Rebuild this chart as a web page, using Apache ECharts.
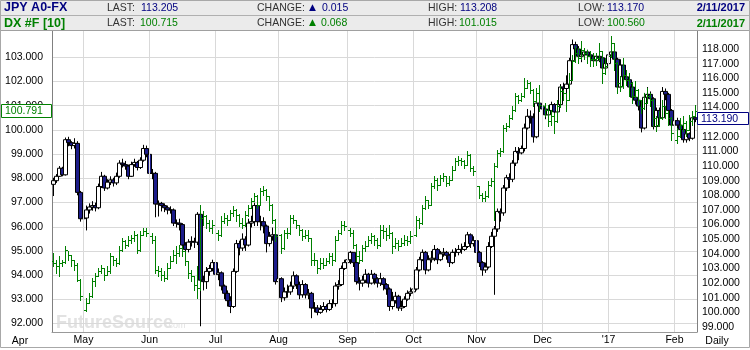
<!DOCTYPE html>
<html><head><meta charset="utf-8">
<script src="https://cdn.jsdelivr.net/npm/echarts@6/dist/echarts.min.js"></script>
<style>html,body{margin:0;padding:0;background:#fff}#c{width:750px;height:350px}</style>
</head><body><div id="c"></div>
<script>
// ---- data ----
const firstDay = '2016-04-18';
const lastDay = '2017-02-10';
const monthNames = ['Jan','Feb','Mar','Apr','May','Jun','Jul','Aug','Sep','Oct','Nov','Dec'];
const leftTicks = [92,93,94,95,96,97,98,99,100,101,102,103];
const rightTicks = [99,100,101,102,103,104,105,106,107,108,109,110,111,112,113,114,115,116,117,118];

const dxOpen0 = 94.60;
const dxClose = [94.50,94.37,94.50,94.55,95.05,94.85,94.64,94.43,93.81,93.13,
92.58,92.85,93.13,93.75,93.95,94.16,94.30,94.02,94.16,94.78,
94.64,94.50,95.05,95.40,95.26,95.47,95.54,95.67,95.05,95.67,
95.81,95.74,95.60,95.47,94.23,94.16,94.02,93.88,94.30,94.57,
94.85,94.92,95.12,94.99,94.57,94.09,93.95,93.61,93.47,96.36,
96.43,96.16,95.95,96.09,95.74,95.67,96.22,96.36,96.29,96.57,
96.71,96.50,96.16,96.09,96.50,96.78,97.05,97.26,96.91,97.46,
97.53,97.26,96.91,96.29,95.60,95.67,95.12,95.74,95.74,96.36,
96.29,96.09,95.88,95.60,95.67,95.54,94.64,94.64,94.30,94.50,
94.43,94.57,94.78,94.64,95.47,95.74,96.09,96.02,95.88,95.74,
95.26,94.78,94.64,95.12,95.19,95.47,95.60,95.47,95.26,95.88,
95.81,95.67,95.74,95.19,95.33,95.19,95.33,95.47,95.40,95.60,
95.67,96.29,96.16,96.78,97.12,96.91,97.67,97.95,97.74,98.02,
98.08,97.81,97.95,98.36,98.70,98.77,98.70,98.57,98.98,98.43,
98.29,97.67,97.33,97.19,97.26,97.74,97.88,98.50,99.05,99.11,
100.08,100.15,100.49,100.84,101.39,101.25,101.39,101.73,101.94,101.66,
101.18,101.53,101.04,100.97,100.84,100.35,100.56,100.35,100.97,101.59,
101.53,101.25,102.08,102.84,103.18,102.97,103.32,103.18,103.04,102.91,
102.91,102.97,103.25,102.35,102.63,103.04,103.59,102.77,101.94,101.80,
102.29,102.08,101.94,101.39,101.66,101.25,100.91,101.11,101.39,101.25,
100.49,100.22,100.49,100.97,100.70,100.49,99.87,99.59,99.73,100.22,
100.28,100.01,100.35,100.56,100.79];
const dxHigh = [94.92,94.64,94.78,94.64,95.19,94.99,94.85,94.64,94.50,93.85,
93.15,93.05,93.26,93.88,94.09,94.30,94.43,94.30,94.37,94.92,
94.78,94.71,95.19,95.54,95.47,95.60,95.67,95.81,95.70,95.81,
95.95,95.95,95.81,95.74,95.60,94.37,94.30,94.16,94.50,94.78,
95.05,95.19,95.26,95.19,95.00,94.60,94.23,93.98,94.37,96.91,
96.64,96.50,96.29,96.29,96.10,95.88,96.43,96.57,96.50,96.71,
96.84,96.72,96.52,96.36,96.64,96.91,97.19,97.40,97.30,97.60,
97.67,97.55,97.26,96.95,96.32,95.81,95.70,95.88,95.95,96.50,
96.50,96.30,96.09,95.90,95.88,95.88,95.54,94.92,94.64,94.71,
94.71,94.71,94.92,94.92,95.60,95.88,96.22,96.22,96.09,95.95,
95.88,95.30,94.99,95.26,95.40,95.60,95.74,95.67,95.54,96.09,
96.09,95.95,96.09,95.78,95.54,95.47,95.54,95.67,95.60,95.81,
95.88,96.43,96.36,96.91,97.26,97.12,97.81,98.08,98.02,98.15,
98.22,98.10,98.08,98.50,98.84,98.91,98.84,98.77,99.11,99.00,
98.50,98.32,97.70,97.40,97.46,97.88,98.02,98.63,99.18,99.25,
100.22,100.28,100.63,100.97,101.53,101.46,101.53,102.15,102.08,101.96,
101.70,101.73,101.87,101.25,101.11,101.04,100.84,100.70,101.25,101.80,
101.66,101.53,102.35,103.11,103.46,103.39,103.66,103.39,103.32,103.25,
103.18,103.18,103.59,103.28,102.97,103.25,103.87,103.60,102.80,102.22,
102.97,102.49,102.35,101.97,102.01,101.68,101.25,101.53,101.73,101.53,
101.28,100.56,100.77,101.25,100.97,100.77,100.52,100.01,100.08,100.49,
100.56,100.35,100.63,100.77,101.02];
const dxLow = [94.37,94.09,93.95,94.37,94.50,94.64,94.37,94.23,93.75,92.99,
91.89,92.50,92.85,93.10,93.54,93.95,94.09,93.81,94.02,94.10,
94.43,94.37,94.45,95.00,95.12,95.19,95.33,95.40,94.92,95.00,
95.67,95.60,95.47,95.33,94.09,93.95,93.81,93.75,93.85,94.30,
94.57,94.50,94.78,94.78,94.43,93.88,93.75,93.40,93.06,93.40,
96.09,95.95,95.81,95.74,95.54,95.47,95.62,96.16,96.09,96.29,
96.43,96.22,96.02,95.95,96.05,96.45,96.78,97.05,96.78,96.88,
97.33,97.12,96.71,96.16,95.40,95.40,94.92,95.08,95.54,95.70,
96.16,95.95,95.67,95.47,95.54,95.40,94.43,94.43,94.09,94.25,
94.30,94.43,94.50,94.43,94.57,95.45,95.70,95.88,95.67,95.60,
95.12,94.57,94.50,94.60,94.99,95.19,95.33,95.26,95.12,95.22,
95.54,95.47,95.54,94.92,95.12,95.05,95.19,95.26,95.26,95.33,
95.47,95.62,95.95,96.12,96.75,96.78,96.88,97.62,97.53,97.74,
97.88,97.67,97.74,97.92,98.33,98.57,98.57,98.43,98.55,98.29,
98.15,97.53,97.19,97.05,97.05,97.22,97.67,96.29,98.48,98.91,
99.08,99.94,100.12,100.46,100.80,101.11,101.18,101.35,101.73,101.53,
100.97,101.15,100.77,100.70,100.56,100.15,100.22,99.87,100.32,100.94,
101.25,100.77,101.22,102.05,102.80,102.77,102.95,102.91,102.77,102.63,
102.63,102.70,102.90,101.94,102.30,102.60,103.00,102.49,101.53,101.59,
101.75,101.87,101.39,101.11,101.35,101.04,100.70,100.88,101.10,100.97,
100.15,99.94,100.18,100.46,100.49,100.22,99.59,99.25,99.46,99.70,
99.94,99.73,99.98,100.22,100.56];

const jpyOpen0 = 108.75;
const jpyClose = [109.00,109.30,109.85,109.40,111.80,111.60,111.40,111.55,108.20,106.40,
106.45,107.00,107.20,107.30,107.15,108.60,109.30,108.50,108.90,109.05,
108.85,109.30,110.20,110.10,110.00,109.30,110.10,110.25,109.90,110.40,
111.20,110.80,109.50,109.50,107.40,107.45,107.30,107.15,107.00,107.00,
106.10,106.10,106.00,104.60,104.30,104.80,104.85,104.80,106.70,102.20,
102.10,102.80,103.00,103.40,102.60,102.70,101.80,101.30,100.80,100.40,
102.80,104.70,104.40,105.00,104.60,106.10,106.20,107.30,106.20,106.20,
105.90,104.70,105.20,105.30,102.10,102.30,101.00,101.40,101.40,101.80,
102.50,101.90,101.20,101.90,101.20,101.30,100.30,100.30,100.00,100.20,
100.40,100.20,100.60,100.60,101.80,101.90,103.00,103.40,103.60,104.10,
103.40,102.10,102.00,102.20,102.60,102.00,102.60,102.30,102.00,102.30,
101.90,101.60,100.40,100.80,101.10,100.30,100.40,100.90,101.30,101.40,
101.60,102.90,103.60,104.10,102.90,103.60,103.70,104.30,103.60,104.00,
104.10,103.90,103.40,104.10,104.10,104.30,104.30,104.50,105.30,104.70,
104.90,104.10,103.40,102.90,103.10,104.50,105.20,105.70,106.90,106.80,
108.50,109.20,109.10,110.20,111.00,110.90,111.20,112.60,113.40,113.30,
112.00,114.30,114.10,113.90,113.50,113.80,114.20,113.70,114.20,115.40,
115.30,115.60,117.20,118.30,118.00,117.50,117.60,117.80,117.60,117.50,
117.20,117.50,117.40,116.70,117.00,117.60,117.80,117.30,115.40,116.90,
116.10,115.90,115.40,114.70,114.50,114.10,112.60,114.70,114.90,114.60,
112.70,113.80,113.30,115.10,114.90,113.80,112.80,113.10,112.80,112.50,
111.80,112.20,111.90,113.30,113.19];
const jpyHigh = [109.20,109.45,110.00,109.95,111.95,112.00,111.70,111.90,111.70,108.30,
106.90,107.30,107.45,107.60,107.50,108.80,109.60,109.40,109.10,109.30,
109.20,109.55,110.40,110.50,110.35,110.10,110.30,110.50,110.35,110.60,
111.45,111.40,110.90,109.80,109.60,107.65,107.55,107.45,107.30,107.25,
107.10,106.35,106.40,106.10,104.80,105.00,105.20,105.10,106.85,106.80,
102.50,103.10,103.25,103.60,103.45,103.00,102.80,101.90,101.50,101.10,
103.00,104.95,104.90,105.40,105.20,106.40,106.60,107.50,107.35,106.60,
106.50,106.00,105.50,105.80,105.40,102.80,102.40,101.70,101.90,102.10,
102.80,102.60,102.10,102.20,102.00,101.60,101.40,100.70,100.50,100.50,
100.70,100.55,100.85,100.90,102.05,102.20,103.20,103.60,104.10,104.20,
104.10,103.50,102.40,102.50,102.95,102.70,102.90,102.70,102.40,102.70,
102.40,102.00,101.70,101.40,101.40,101.20,100.80,101.10,101.50,101.70,
102.30,103.10,103.80,104.30,104.20,103.90,104.20,104.60,104.40,104.20,
104.40,104.20,104.00,104.30,104.40,104.60,104.70,104.80,105.50,105.40,
105.20,105.00,104.20,103.50,103.40,104.80,105.50,105.90,107.10,107.10,
108.70,109.40,109.50,110.40,111.30,111.30,111.40,112.90,113.90,113.80,
113.60,114.50,114.60,114.30,114.10,114.00,114.40,114.30,114.50,115.60,
115.70,116.20,117.40,118.65,118.50,118.20,117.90,118.00,117.95,117.80,
117.70,117.70,117.80,117.50,117.30,118.00,118.60,117.90,117.40,117.30,
117.00,116.40,116.10,115.50,115.20,114.70,114.30,115.00,115.40,115.10,
114.70,114.00,114.00,115.40,115.30,115.00,113.90,113.40,113.30,112.90,
112.60,112.50,112.30,113.50,113.40];
const jpyLow = [107.95,108.85,109.25,109.30,109.35,111.35,111.15,111.20,108.00,106.20,
106.10,105.60,106.75,106.95,106.90,107.05,108.50,108.30,108.40,108.70,
108.60,108.70,109.20,109.90,109.75,109.10,109.25,109.95,109.70,109.80,
110.30,110.60,109.30,109.10,106.50,106.55,106.90,106.85,106.70,106.75,
105.90,105.80,105.60,104.40,103.90,104.10,104.50,104.40,104.60,99.05,
101.50,101.60,102.50,102.80,102.30,102.20,101.50,100.90,100.40,99.95,
100.30,102.70,103.90,104.20,104.20,104.50,105.80,105.90,105.90,105.60,
105.40,104.10,104.50,104.90,101.90,101.80,100.70,100.80,101.00,101.20,
101.60,101.60,100.90,101.00,100.95,100.90,99.60,100.00,99.80,99.90,
100.10,100.00,100.10,100.30,100.40,101.55,101.80,102.90,103.20,103.30,
103.10,101.90,101.50,101.75,102.00,101.70,101.90,101.90,101.70,101.80,
101.50,101.20,100.10,100.20,100.60,100.10,100.10,100.30,100.80,101.10,
101.20,101.50,102.80,103.50,102.60,102.80,103.40,103.50,103.30,103.50,
103.80,103.60,103.10,103.30,103.80,103.90,104.00,104.20,104.40,104.40,
104.50,103.80,103.10,102.50,102.70,103.00,104.40,101.20,105.50,106.20,
106.60,108.30,108.50,108.90,110.00,110.40,110.80,111.00,112.50,112.90,
111.60,111.90,113.80,113.60,113.20,113.20,113.60,113.40,113.50,114.00,
114.90,114.80,115.40,116.90,117.70,117.20,117.10,117.40,117.30,117.20,
116.90,117.00,117.10,116.40,116.50,116.90,117.40,116.90,115.10,115.20,
115.80,115.60,115.10,114.40,114.20,113.80,112.30,112.50,114.50,114.30,
112.50,112.60,113.00,113.20,114.50,113.50,112.50,112.70,112.50,112.20,
111.60,111.60,111.70,111.80,113.00];

// ---- categories (trading days) ----
const categories = [];
(function(){
  const d = new Date(firstDay + 'T00:00:00Z'), end = new Date(lastDay + 'T00:00:00Z');
  while (d <= end) {
    const wd = d.getUTCDay();
    if (wd !== 0 && wd !== 6) categories.push(d.toISOString().slice(0,10));
    d.setUTCDate(d.getUTCDate() + 1);
  }
})();
const monthStart = new Set();
categories.forEach((c, i) => { if (i > 0 && c.slice(5,7) !== categories[i-1].slice(5,7)) monthStart.add(i); });

const jpyData = jpyClose.map((c, i) => [i === 0 ? jpyOpen0 : jpyClose[i-1], c, jpyLow[i], jpyHigh[i]]);
const dxData = dxClose.map((c, i) => [i, i === 0 ? dxOpen0 : dxClose[i-1], c, dxLow[i], dxHigh[i]]);

const FONT = '"Liberation Sans", Arial, sans-serif';
const NAVY = '#000080', GREEN = '#008000', GRAYTXT = '#333333';

function renderDX(params, api) {
  const i = api.value(0);
  const o = api.coord([i, api.value(1)]);
  const c = api.coord([i, api.value(2)]);
  const l = api.coord([i, api.value(3)]);
  const h = api.coord([i, api.value(4)]);
  const n = Math.floor(o[0]);
  const x = n + 0.5;
  const yo = Math.round(o[1]) + 0.5, yc = Math.round(c[1]) + 0.5;
  const st = {stroke: GREEN, lineWidth: 1};
  return {type: 'group', children: [
    {type: 'line', shape: {x1: x, y1: Math.round(h[1]), x2: x, y2: Math.round(l[1]) + 1}, style: st},
    {type: 'line', shape: {x1: n - 1, y1: yo, x2: n, y2: yo}, style: st},
    {type: 'line', shape: {x1: n + 1, y1: yc, x2: n + 2, y2: yc}, style: st}
  ]};
}

function txt(x, y, text, fill, size, bold, align, family) {
  return {type: 'text', z: 100, style: {x: x, y: y, text: text, fill: fill, fontSize: size,
    fontWeight: bold ? 'bold' : 'normal', fontFamily: family || FONT, align: align || 'left', verticalAlign: 'middle'}};
}

const graphic = [
  {type: 'rect', z: 90, shape: {x: 0, y: 0, width: 750, height: 15}, style: {fill: '#ebebeb'}},
  {type: 'rect', z: 90, shape: {x: 0, y: 16, width: 750, height: 14}, style: {fill: '#ebebeb'}},
  {type: 'line', z: 91, shape: {x1: 0, y1: 15.5, x2: 750, y2: 15.5}, style: {stroke: '#b0b0b0', lineWidth: 1}},
  {type: 'line', z: 91, shape: {x1: 0, y1: 30.5, x2: 750, y2: 30.5}, style: {stroke: '#a0a0a0', lineWidth: 1}},
  txt(4, 8, 'JPY A0-FX', NAVY, 12.5, true),
  txt(107, 8, 'LAST:', GRAYTXT, 10.5), txt(141, 8, '113.205', NAVY, 10.5),
  txt(257, 8, 'CHANGE:', GRAYTXT, 10.5), txt(309, 7.5, '▲', NAVY, 9, false, 'left', '"DejaVu Sans"'), txt(322, 8, '0.015', NAVY, 10.5),
  txt(428, 8, 'HIGH:', GRAYTXT, 10.5), txt(460, 8, '113.208', NAVY, 10.5),
  txt(578, 8, 'LOW:', GRAYTXT, 10.5), txt(607, 8, '113.170', NAVY, 10.5),
  txt(745, 8, '2/11/2017', NAVY, 11, true, 'right'),
  txt(4, 23.5, 'DX #F [10]', GREEN, 12.5, true),
  txt(107, 23.5, 'LAST:', GRAYTXT, 10.5), txt(140, 23.5, '100.715', GREEN, 10.5),
  txt(257, 23.5, 'CHANGE:', GRAYTXT, 10.5), txt(309, 23, '▲', GREEN, 9, false, 'left', '"DejaVu Sans"'), txt(321, 23.5, '0.068', GREEN, 10.5),
  txt(428, 23.5, 'HIGH:', GRAYTXT, 10.5), txt(459, 23.5, '101.015', GREEN, 10.5),
  txt(578, 23.5, 'LOW:', GRAYTXT, 10.5), txt(607, 23.5, '100.560', GREEN, 10.5),
  txt(745, 23.5, '2/11/2017', GREEN, 11, true, 'right'),
  // watermark
  {type: 'text', z: 0, style: {x: 56, y: 332, text: 'FutureSource', fill: '#e2e2e2', fontSize: 18, fontWeight: 'bold', fontFamily: FONT, verticalAlign: 'bottom'}},
  {type: 'text', z: 0, style: {x: 166, y: 330, text: '.com', fill: '#e2e2e2', fontSize: 9, fontFamily: FONT, verticalAlign: 'bottom'}},
  // bottom texts
  txt(20, 341, 'Apr', '#000', 10.5, false, 'center'),
  txt(717, 341, 'Daily', '#000', 10.5, false, 'center'),
  // value boxes
  {type: 'rect', z: 100, shape: {x: 1.5, y: 104.5, width: 50, height: 13}, style: {fill: '#fff', stroke: GREEN, lineWidth: 1}},
  txt(5, 111.5, '100.791', GREEN, 10.5),
  {type: 'rect', z: 100, shape: {x: 697.5, y: 112.5, width: 51, height: 12}, style: {fill: '#fff', stroke: NAVY, lineWidth: 1}},
  txt(701, 118.8, '113.190', NAVY, 10.5),
  // outer frame
  {type: 'rect', z: 95, shape: {x: 0.5, y: 0.5, width: 749, height: 347}, style: {fill: 'none', stroke: '#a8a8a8', lineWidth: 1}}
];

const chart = echarts.init(document.getElementById('c'), null, {renderer: 'canvas'});
chart.setOption({
  animation: false,
  backgroundColor: '#ffffff',
  grid: {left: 52, right: 53, top: 31, bottom: 18},
  xAxis: {
    type: 'category', data: categories, boundaryGap: true,
    axisLine: {show: true, lineStyle: {color: '#999999'}},
    axisTick: {show: false},
    axisLabel: {
      interval: (i) => monthStart.has(i),
      formatter: (v) => { const m = +v.slice(5,7) - 1; return m === 0 ? "'" + v.slice(2,4) : monthNames[m]; },
      color: '#000', fontSize: 10.5, fontFamily: FONT, margin: 3
    },
    splitLine: {show: false}
  },
  yAxis: [
    {
      type: 'value', position: 'left', min: 91.653, max: 104.087, scale: true,
      axisLine: {show: true, lineStyle: {color: '#808080'}},
      axisTick: {show: false, customValues: leftTicks},
      axisLabel: {customValues: leftTicks, formatter: (v) => v.toFixed(3), color: '#000', fontSize: 10.5, fontFamily: FONT, margin: 9},
      splitLine: {show: true, lineStyle: {color: '#d9d9d9', width: 1}}
    },
    {
      type: 'value', position: 'right', min: 98.658, max: 119.23, scale: true,
      axisLine: {show: true, lineStyle: {color: '#808080'}},
      axisTick: {show: false, customValues: rightTicks},
      axisLabel: {customValues: rightTicks, formatter: (v) => v.toFixed(3), color: '#000', fontSize: 10.5, fontFamily: FONT, margin: 5},
      splitLine: {show: false}
    }
  ],
  series: [
    {
      type: 'line', data: [], xAxisIndex: 0, yAxisIndex: 0, z: 1, silent: true,
      markLine: {
        silent: true, symbol: ['none', 'none'], animation: false,
        label: {show: false},
        lineStyle: {color: '#d9d9d9', type: 'solid', width: 1},
        data: Array.from(monthStart).map(i => ({xAxis: categories[i]}))
      }
    },
    {
      type: 'candlestick', name: 'JPY', xAxisIndex: 0, yAxisIndex: 1, z: 2, silent: true,
      data: jpyData, barWidth: 4,
      itemStyle: {color: '#ffffff', color0: '#1c1c8a', borderColor: '#000000', borderColor0: '#000000', borderWidth: 1}
    },
    {
      type: 'custom', name: 'DX', xAxisIndex: 0, yAxisIndex: 0, z: 3, silent: true,
      data: dxData, encode: {x: 0, y: [1, 2, 3, 4]}, renderItem: renderDX
    }
  ],
  graphic: graphic
});
</script></body></html>
